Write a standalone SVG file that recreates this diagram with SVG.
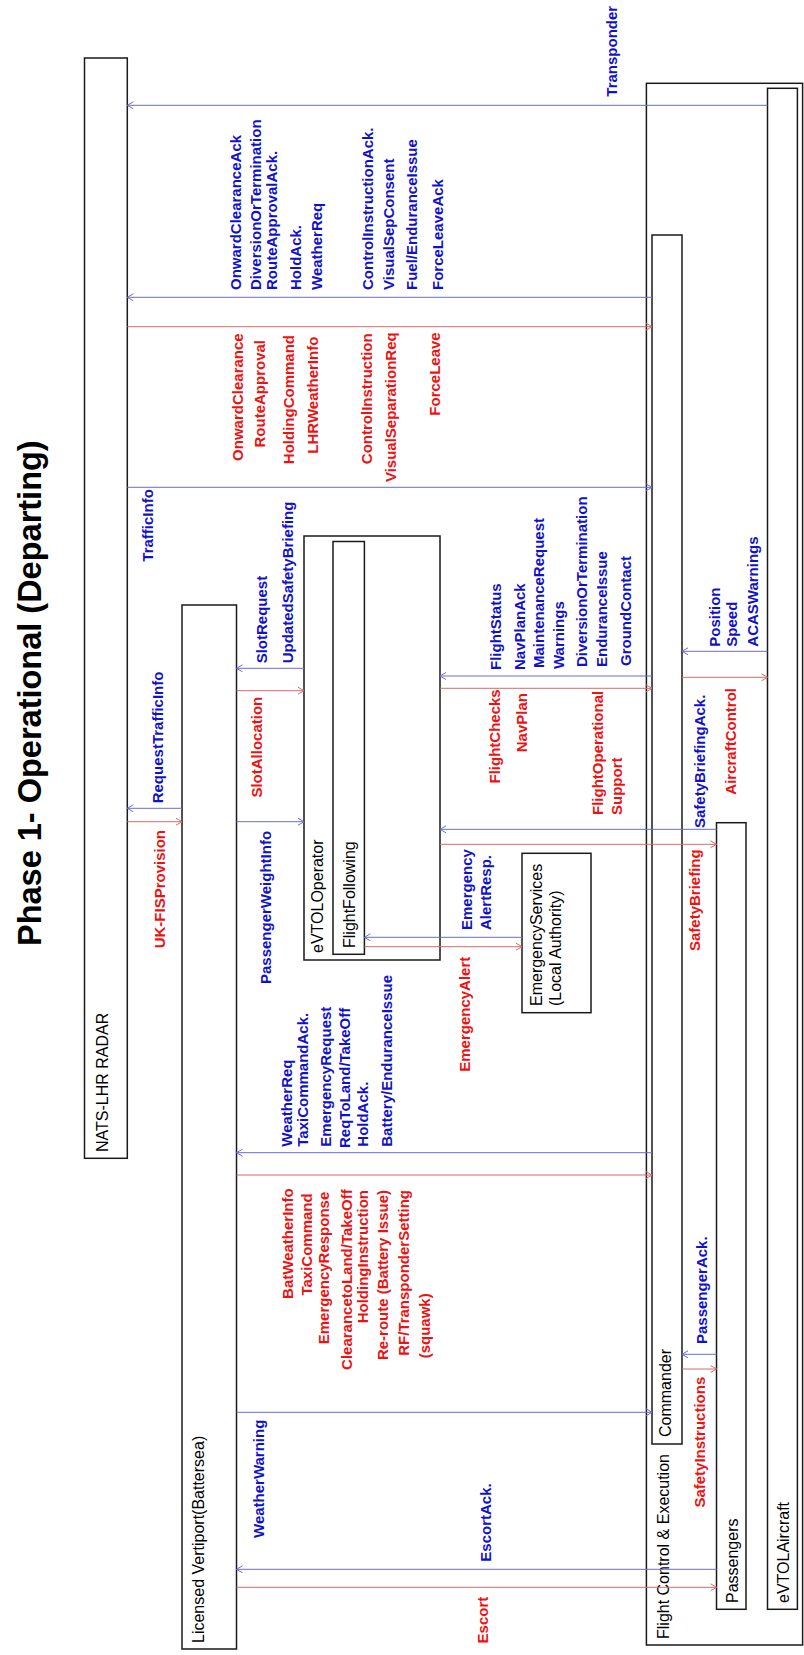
<svg xmlns="http://www.w3.org/2000/svg" width="804" height="1655" viewBox="0 0 804 1655">
<style>
.bx{fill:#fff;stroke:#1a1a1a;stroke-width:1.5}
.nt{font-family:"Liberation Sans",Arial,sans-serif;font-size:16px;fill:#000}
.lb{font-family:"Liberation Sans",Arial,sans-serif;font-size:15px;font-weight:bold}
.b{fill:#1111cc}
.r{fill:#ee1111}
.e{text-anchor:end}
.cb{stroke:#6b6bd8;stroke-width:1;fill:none;marker-end:url(#ab)}
.cr{stroke:#d86b6b;stroke-width:1;fill:none;marker-end:url(#ar)}
.title{font-family:"Liberation Sans",Arial,sans-serif;font-size:32.5px;font-weight:bold;fill:#000}
</style>
<defs>
<marker id="ab" markerUnits="userSpaceOnUse" markerWidth="10" markerHeight="10" refX="7" refY="4" orient="auto"><path d="M1,0.5 L7,4 L1,7.5" fill="none" stroke="#6b6bd8" stroke-width="1"/></marker>
<marker id="ar" markerUnits="userSpaceOnUse" markerWidth="10" markerHeight="10" refX="7" refY="4" orient="auto"><path d="M1,0.5 L7,4 L1,7.5" fill="none" stroke="#d86b6b" stroke-width="1"/></marker>
</defs>
<rect width="804" height="1655" fill="#fff"/>
<text class="title" x="41" y="946" transform="rotate(-90 41 946)">Phase 1- Operational (Departing)</text>

<g id="nats"><rect class="bx" x="84.5" y="58" width="42.8" height="1100.3"/><text class="nt" x="108" y="1152" transform="rotate(-90 108 1152)">NATS-LHR RADAR</text></g>
<g id="vertiport"><rect class="bx" x="182" y="605" width="54.5" height="1044"/><text class="nt" x="203.6" y="1643" transform="rotate(-90 203.6 1643)">Licensed Vertiport(Battersea)</text></g>
<g id="operator"><rect class="bx" x="304" y="536" width="136" height="424"/><text class="nt" x="323.3" y="953" transform="rotate(-90 323.3 953)">eVTOLOperator</text></g>
<g id="flightfollowing"><rect class="bx" x="333" y="541.5" width="31.4" height="412.8"/><text class="nt" x="355" y="948" transform="rotate(-90 355 948)">FlightFollowing</text></g>
<g id="emergency"><rect class="bx" x="522" y="853.3" width="69" height="159.4"/><text class="nt" x="542" y="1006" transform="rotate(-90 542 1006)">EmergencyServices</text><text class="nt" x="561" y="1006" transform="rotate(-90 561 1006)">(Local Authority)</text></g>
<g id="fce"><rect class="bx" x="646.4" y="83.3" width="156.2" height="1561.7"/><text class="nt" x="668.6" y="1639" transform="rotate(-90 668.6 1639)">Flight Control &amp; Execution</text></g>
<g id="commander"><rect class="bx" x="652" y="235" width="30" height="1209"/><text class="nt" x="671" y="1437" transform="rotate(-90 671 1437)">Commander</text></g>
<g id="passengers"><rect class="bx" x="716.5" y="822.7" width="29.5" height="786.6"/><text class="nt" x="738" y="1603" transform="rotate(-90 738 1603)">Passengers</text></g>
<g id="aircraft"><rect class="bx" x="767.5" y="88.3" width="29.9" height="1521"/><text class="nt" x="788.7" y="1603" transform="rotate(-90 788.7 1603)">eVTOLAircraft</text></g>

<g id="connectors">
<line class="cb" x1="767.5" y1="105.3" x2="127.3" y2="105.3"/>
<line class="cb" x1="652" y1="297.3" x2="127.3" y2="297.3"/>
<line class="cr" x1="127.3" y1="326.7" x2="652" y2="326.7"/>
<line class="cb" x1="127.3" y1="487.3" x2="652" y2="487.3"/>
<line class="cb" x1="304" y1="668.3" x2="236.5" y2="668.3"/>
<line class="cr" x1="236.5" y1="690.7" x2="304" y2="690.7"/>
<line class="cb" x1="652" y1="676" x2="440" y2="676"/>
<line class="cr" x1="440" y1="688.3" x2="652" y2="688.3"/>
<line class="cb" x1="767.5" y1="651.3" x2="682" y2="651.3"/>
<line class="cr" x1="682" y1="677.3" x2="767.5" y2="677.3"/>
<line class="cb" x1="182" y1="808.3" x2="127.3" y2="808.3"/>
<line class="cr" x1="127.3" y1="821.7" x2="182" y2="821.7"/>
<line class="cb" x1="236.5" y1="821.7" x2="304" y2="821.7"/>
<line class="cb" x1="716.5" y1="829.3" x2="440" y2="829.3"/>
<line class="cr" x1="440" y1="844.3" x2="716.5" y2="844.3"/>
<line class="cb" x1="522" y1="937.3" x2="364.4" y2="937.3"/>
<line class="cr" x1="364.4" y1="946.7" x2="522" y2="946.7"/>
<line class="cb" x1="652" y1="1152.7" x2="236.5" y2="1152.7"/>
<line class="cr" x1="236.5" y1="1175" x2="652" y2="1175"/>
<line class="cb" x1="716.5" y1="1354.3" x2="682" y2="1354.3"/>
<line class="cr" x1="682" y1="1369" x2="716.5" y2="1369"/>
<line class="cb" x1="236.5" y1="1412.3" x2="652" y2="1412.3"/>
<line class="cb" x1="716.5" y1="1569.3" x2="236.5" y2="1569.3"/>
<line class="cr" x1="236.5" y1="1587.3" x2="716.5" y2="1587.3"/>
</g>

<g id="labels-blue" class="lb b">
<text x="617.5" y="96.7" transform="rotate(-90 617.5 96.7)">Transponder</text>
<text x="241" y="290" transform="rotate(-90 241 290)">OnwardClearanceAck</text>
<text x="261" y="290" transform="rotate(-90 261 290)">DiversionOrTermination</text>
<text x="276.7" y="290" transform="rotate(-90 276.7 290)">RouteApprovalAck.</text>
<text x="301" y="290" transform="rotate(-90 301 290)">HoldAck.</text>
<text x="321.5" y="290" transform="rotate(-90 321.5 290)">WeatherReq</text>
<text x="373.3" y="290" transform="rotate(-90 373.3 290)">ControlInstructionAck.</text>
<text x="394.3" y="290" transform="rotate(-90 394.3 290)">VisualSepConsent</text>
<text x="417.3" y="290" transform="rotate(-90 417.3 290)">Fuel/EnduranceIssue</text>
<text x="443.3" y="290" transform="rotate(-90 443.3 290)">ForceLeaveAck</text>
<text x="153.3" y="561.7" transform="rotate(-90 153.3 561.7)">TrafficInfo</text>
<text x="266.7" y="663.3" transform="rotate(-90 266.7 663.3)">SlotRequest</text>
<text x="292.7" y="663.3" transform="rotate(-90 292.7 663.3)">UpdatedSafetyBriefing</text>
<text x="501" y="670" transform="rotate(-90 501 670)">FlightStatus</text>
<text x="525" y="670" transform="rotate(-90 525 670)">NavPlanAck</text>
<text x="544" y="668" transform="rotate(-90 544 668)">MaintenanceRequest</text>
<text x="564" y="669" transform="rotate(-90 564 669)">Warnings</text>
<text x="586.7" y="667" transform="rotate(-90 586.7 667)">DiversionOrTermination</text>
<text x="606.7" y="667" transform="rotate(-90 606.7 667)">EnduranceIssue</text>
<text x="630.7" y="666" transform="rotate(-90 630.7 666)">GroundContact</text>
<text x="720" y="646.7" transform="rotate(-90 720 646.7)">Position</text>
<text x="737" y="646.7" transform="rotate(-90 737 646.7)">Speed</text>
<text x="758" y="646.7" transform="rotate(-90 758 646.7)">ACASWarnings</text>
<text x="163.3" y="803.3" transform="rotate(-90 163.3 803.3)">RequestTrafficInfo</text>
<text x="270.7" y="984" transform="rotate(-90 270.7 984)">PassengerWeightInfo</text>
<text x="705" y="828" transform="rotate(-90 705 828)">SafetyBriefingAck.</text>
<text x="472" y="930" transform="rotate(-90 472 930)">Emergency</text>
<text x="491" y="930" transform="rotate(-90 491 930)">AlertResp.</text>
<text x="291.7" y="1146.7" transform="rotate(-90 291.7 1146.7)">WeatherReq</text>
<text x="308.3" y="1146.7" transform="rotate(-90 308.3 1146.7)">TaxiCommandAck.</text>
<text x="331" y="1146.7" transform="rotate(-90 331 1146.7)">EmergencyRequest</text>
<text x="350" y="1148" transform="rotate(-90 350 1148)">ReqToLand/TakeOff</text>
<text x="368.3" y="1146.7" transform="rotate(-90 368.3 1146.7)">HoldAck.</text>
<text x="391.7" y="1146.7" transform="rotate(-90 391.7 1146.7)">Battery/EnduranceIssue</text>
<text x="707" y="1344" transform="rotate(-90 707 1344)">PassengerAck.</text>
<text x="264.4" y="1538" transform="rotate(-90 264.4 1538)">WeatherWarning</text>
<text x="491" y="1561.7" transform="rotate(-90 491 1561.7)">EscortAck.</text>
</g>

<g id="labels-red" class="lb r">
<text class="e" x="242.7" y="333.3" transform="rotate(-90 242.7 333.3)">OnwardClearance</text>
<text class="e" x="265" y="340" transform="rotate(-90 265 340)">RouteApproval</text>
<text class="e" x="293.7" y="335" transform="rotate(-90 293.7 335)">HoldingCommand</text>
<text class="e" x="318.3" y="336.7" transform="rotate(-90 318.3 336.7)">LHRWeatherInfo</text>
<text class="e" x="371.7" y="333.3" transform="rotate(-90 371.7 333.3)">ControlInstruction</text>
<text class="e" x="396.3" y="332.3" transform="rotate(-90 396.3 332.3)">VisualSeparationReq</text>
<text class="e" x="440" y="332.3" transform="rotate(-90 440 332.3)">ForceLeave</text>
<text class="e" x="261.7" y="696.7" transform="rotate(-90 261.7 696.7)">SlotAllocation</text>
<text class="e" x="500" y="689.3" transform="rotate(-90 500 689.3)">FlightChecks</text>
<text class="e" x="526.7" y="693" transform="rotate(-90 526.7 693)">NavPlan</text>
<text x="603.3" y="815" transform="rotate(-90 603.3 815)">FlightOperational</text>
<text x="621.7" y="815" transform="rotate(-90 621.7 815)">Support</text>
<text class="e" x="736" y="688" transform="rotate(-90 736 688)">AircraftControl</text>
<text class="e" x="165" y="830" transform="rotate(-90 165 830)">UK-FISProvision</text>
<text class="e" x="700" y="849.3" transform="rotate(-90 700 849.3)">SafetyBriefing</text>
<text class="e" x="470" y="956.7" transform="rotate(-90 470 956.7)">EmergencyAlert</text>
<text class="e" x="293.3" y="1188.3" transform="rotate(-90 293.3 1188.3)">BatWeatherInfo</text>
<text class="e" x="311.7" y="1193.3" transform="rotate(-90 311.7 1193.3)">TaxiCommand</text>
<text class="e" x="329.3" y="1191.7" transform="rotate(-90 329.3 1191.7)">EmergencyResponse</text>
<text class="e" x="351.7" y="1189.3" transform="rotate(-90 351.7 1189.3)">ClearancetoLand/TakeOff</text>
<text class="e" x="368.3" y="1190" transform="rotate(-90 368.3 1190)">HoldingInstruction</text>
<text class="e" x="387.7" y="1190" transform="rotate(-90 387.7 1190)">Re-route (Battery Issue)</text>
<text class="e" x="409" y="1190" transform="rotate(-90 409 1190)">RF/TransponderSetting</text>
<text x="430" y="1358.3" transform="rotate(-90 430 1358.3)">(squawk)</text>
<text class="e" x="705" y="1376.7" transform="rotate(-90 705 1376.7)">SafetyInstructions</text>
<text class="e" x="487.6" y="1596.7" transform="rotate(-90 487.6 1596.7)">Escort</text>
</g>
</svg>
